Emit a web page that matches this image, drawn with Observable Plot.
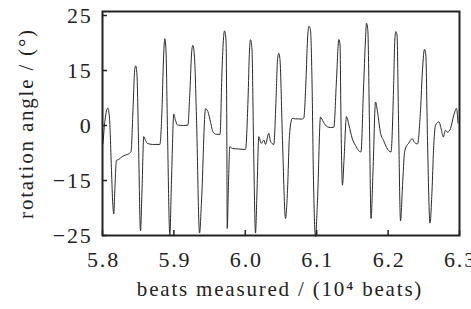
<!DOCTYPE html>
<html>
<head>
<meta charset="utf-8">
<script src="https://cdn.jsdelivr.net/npm/d3@7"></script>
<script src="https://cdn.jsdelivr.net/npm/@observablehq/plot@0.6"></script>
<style>
  html, body { margin: 0; padding: 0; background: #fff; }
  svg text { font-family: 'Liberation Serif', 'Times New Roman', serif; letter-spacing: 1.8px; }
</style>
</head>
<body>
<div id="chart"></div>
<script>
// beats measured (10^4 beats)
const beats = [
  5.8007, 5.8035, 5.8074, 5.8098, 5.8126, 5.8144, 5.8158, 5.8172, 5.8196, 5.8224,
  5.8276, 5.8322, 5.8368, 5.8399, 5.8427, 5.8451, 5.8466, 5.8483, 5.8504, 5.8532,
  5.8553, 5.8578, 5.8602, 5.8630, 5.8700, 5.8803, 5.8833, 5.8854, 5.8873, 5.8889,
  5.8910, 5.8943, 5.8966, 5.8999, 5.9022, 5.9050, 5.9134, 5.9195, 5.9225, 5.9249,
  5.9265, 5.9289, 5.9317, 5.9359, 5.9387, 5.9443, 5.9475, 5.9513, 5.9550, 5.9597,
  5.9646, 5.9674, 5.9695, 5.9709, 5.9730, 5.9741, 5.9747, 5.9762, 5.9783, 5.9821,
  5.9905, 6.0003, 6.0038, 6.0059, 6.0073, 6.0094, 6.0115, 6.0143, 6.0164, 6.0189,
  6.0223, 6.0259, 6.0283, 6.0329, 6.0353, 6.0399, 6.0430, 6.0451, 6.0469, 6.0486,
  6.0521, 6.0563, 6.0591, 6.0619, 6.0657, 6.0704, 6.0746, 6.0787, 6.0819, 6.0850,
  6.0871, 6.0892, 6.0913, 6.0934, 6.0955, 6.0983, 6.1011, 6.1053, 6.1095, 6.1147,
  6.1193, 6.1240, 6.1277, 6.1310, 6.1327, 6.1340, 6.1361, 6.1382, 6.1417, 6.1452,
  6.1497, 6.1543, 6.1585, 6.1620, 6.1655, 6.1683, 6.1697, 6.1716, 6.1740, 6.1761,
  6.1789, 6.1824, 6.1852, 6.1894, 6.1936, 6.1978, 6.2041, 6.2076, 6.2094, 6.2108,
  6.2125, 6.2146, 6.2174, 6.2202, 6.2230, 6.2251, 6.2286, 6.2338, 6.2370, 6.2412,
  6.2454, 6.2482, 6.2510, 6.2528, 6.2552, 6.2587, 6.2615, 6.2636, 6.2664, 6.2711,
  6.2748, 6.2772, 6.2804, 6.2832, 6.2874, 6.2920, 6.2958, 6.2979
];
// rotation angle (°)
const angle = [
  -4.88, 1.46, 4.75, 2.0, -12.3, -19.3, -21.1, -16.9, -9.48, -9.3,
  -8.46, -8.05, -7.72, -7.09, 4.2, 15.13, 15.85, 13.8, -4.05, -24.15,
  -16.9, -3.03, -4.05, -4.88, -5.16, -5.16, 4.2, 16.93, 20.78, 18.74,
  -1.3, -24.96, -15.05, 3.1, 1.46, 0.16, 0.0, 0.08, 9.7, 18.38,
  19.58, 17.3, 1.46, -24.56, -18.7, 4.56, 3.85, 0.92, -1.85, -2.4,
  -2.4, 15.1, 20.9, 22.2, 20.54, -1.3, -23.73, -16.87, -5.79, -6.26,
  -6.4, -6.53, 6.95, 18.74, 20.6, 18.74, -4.05, -24.56, -16.9, -3.03,
  -4.88, -3.97, -5.16, -2.12, -4.33, -5.16, 6.95, 16.93, 18.14, 16.93,
  -4.05, -21.9, -16.87, -2.67, 1.92, 1.81, 1.81, 1.73, 2.0, 12.45,
  20.54, 23.03, 22.35, 12.45, -15.05, -25.2, -18.69, 2.28, 0.91, -0.33,
  -0.55, -0.47, 12.45, 20.63, 19.64, 1.46, -15.84, -9.57, 2.42, 0.08,
  -3.5, -5.43, -6.81, -7.22, 9.7, 20.54, 23.6, 22.35, -1.3, -21.9,
  -12.3, 6.4, 3.65, -2.12, -4.05, -5.98, -7.22, 9.7, 20.54, 22.08,
  21.44, 1.46, -22.33, -15.96, -7.36, -5.9, -4.88, -3.58, -4.6, -5.02,
  4.2, 15.13, 18.86, 17.83, -4.05, -22.75, -16.87, -6.81, 0.08, 1.0,
  -1.3, -3.14, -1.3, -1.85, -0.83, 2.83, 4.67, 0.63
];
const xTicks = [5.8, 5.9, 6.0, 6.1, 6.2, 6.3];
const yTicks = [-25, -15, 0, 15, 25];
const xLabel = "beats measured / (10\u2074 beats)";
const yLabel = "rotation angle / (\u00B0)";

const data = beats.map((b, i) => ({x: b, y: angle[i]}));
const fmtY = d => d < 0 ? "\u2212" + (-d) : String(d);

// the reference axis places its labelled ticks at equal spacing (piecewise linear)
const warp = d3.scaleLinear().domain(yTicks).range([-2, -1, 0, 1, 2]);
const serif = "'Liberation Serif', 'Times New Roman', serif";

const chart = Plot.plot({
  width: 471,
  height: 309,
  marginLeft: 102,
  marginRight: 12,
  marginTop: 11,
  marginBottom: 74,
  style: {fontFamily: serif, fontSize: "22px", color: "#222", background: "#fff", overflow: "visible"},
  x: {domain: [5.8, 6.3]},
  y: {transform: warp, domain: [-2, 2.073], range: [235, 11]},
  marks: [
    Plot.line(data, {x: "x", y: "y", stroke: "#2a2a2a", strokeWidth: 1, curve: "monotone-x"}),
    Plot.frame({stroke: "#222", strokeWidth: 2}),
    Plot.axisX(xTicks, {tickSize: -5, text: null, label: null, stroke: "#222", strokeWidth: 1.5}),
    Plot.axisX(xTicks, {tickSize: 0, tickPadding: 16, tickFormat: d => d.toFixed(1), label: null, fill: "#222", fontFamily: serif, fontSize: 22, dx: 1}),
    Plot.axisY(yTicks, {tickSize: -5, text: null, label: null, stroke: "#222", strokeWidth: 1.5}),
    Plot.axisY(yTicks, {tickSize: 0, tickPadding: 10, tickFormat: fmtY, label: null, fill: "#222", fontFamily: serif, fontSize: 22}),
    Plot.text([xLabel], {frameAnchor: "bottom", dy: 60, dx: -1, fill: "#222", fontFamily: serif, fontSize: 21}),
    Plot.text([yLabel], {frameAnchor: "left", textAnchor: "middle", dx: -76, rotate: -90, fill: "#222", fontFamily: serif, fontSize: 21})
  ]
});
document.getElementById("chart").appendChild(chart);
</script>
</body>
</html>
